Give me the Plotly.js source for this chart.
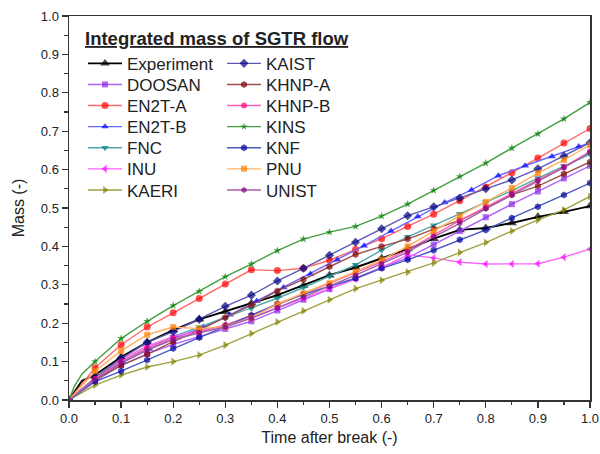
<!DOCTYPE html>
<html><head><meta charset="utf-8">
<script src="https://cdn.plot.ly/plotly-3.0.1.min.js"></script>
<style>html,body{margin:0;padding:0;background:#fff}</style>
</head><body><div id="chart" style="width:600px;height:454px"></div>
<script>
// ---- data ----
const time = [0,0.05,0.1,0.15,0.2,0.25,0.3,0.35,0.4,0.45,0.5,0.55,0.6,0.65,0.7,0.75,0.8,0.85,0.9,0.95,1.0];
const timeExp = [0,0.025,0.05,0.1,0.15,0.2,0.25,0.3,0.35,0.4,0.45,0.5,0.55,0.6,0.65,0.7,0.75,0.8,0.85,0.9,0.95,1.0];
const timeKINS = [0,0.01,0.025,0.05,0.1,0.15,0.2,0.25,0.3,0.35,0.4,0.45,0.5,0.55,0.6,0.65,0.7,0.75,0.8,0.85,0.9,0.95,1.0];
const timeEN2TB = [0,0.0515,0.103,0.1545,0.206,0.2575,0.309,0.3605,0.412,0.4635,0.515,0.5665,0.618,0.6695,0.721,0.7725,0.824,0.8755,0.927,0.9785,1.0];

const experiment = [0,0.05,0.065,0.112,0.15,0.182,0.21,0.23,0.252,0.273,0.298,0.325,0.345,0.369,0.393,0.42,0.443,0.448,0.461,0.477,0.49,0.505];
const doosan = [0,0.05,0.09,0.12,0.145,0.165,0.185,0.205,0.233,0.261,0.289,0.317,0.345,0.37,0.405,0.44,0.476,0.51,0.543,0.577,0.61];
const en2tA = [0,0.084,0.144,0.19,0.227,0.264,0.302,0.339,0.337,0.343,0.364,0.392,0.42,0.452,0.484,0.519,0.555,0.592,0.63,0.669,0.707];
const en2tB = [0,0.055,0.098,0.133,0.163,0.19,0.222,0.258,0.293,0.328,0.365,0.402,0.44,0.478,0.514,0.547,0.584,0.61,0.634,0.66,0.67];
const fnc = [0,0.055,0.1,0.135,0.165,0.19,0.213,0.238,0.265,0.293,0.322,0.352,0.39,0.425,0.455,0.485,0.515,0.545,0.578,0.61,0.64];
const inu = [0,0.055,0.105,0.14,0.165,0.18,0.195,0.215,0.24,0.265,0.29,0.315,0.345,0.378,0.37,0.359,0.354,0.354,0.355,0.372,0.393];
const kaeri = [0,0.039,0.065,0.086,0.1,0.117,0.143,0.173,0.203,0.232,0.261,0.29,0.312,0.333,0.357,0.384,0.41,0.44,0.469,0.495,0.53];
const kaist = [0,0.058,0.108,0.15,0.178,0.21,0.244,0.273,0.31,0.343,0.377,0.411,0.446,0.48,0.503,0.526,0.55,0.573,0.602,0.635,0.67];
const khnpA = [0,0.052,0.09,0.119,0.152,0.182,0.215,0.247,0.284,0.314,0.347,0.379,0.4,0.419,0.445,0.468,0.5,0.534,0.557,0.589,0.62];
const khnpB = [0,0.055,0.1,0.135,0.16,0.178,0.195,0.22,0.248,0.275,0.302,0.33,0.36,0.39,0.43,0.467,0.503,0.539,0.573,0.607,0.647];
const kins = [0,0.035,0.068,0.1,0.16,0.205,0.246,0.283,0.321,0.354,0.389,0.419,0.437,0.452,0.479,0.51,0.546,0.582,0.617,0.656,0.693,0.732,0.775];
const knf = [0,0.048,0.075,0.104,0.134,0.163,0.193,0.221,0.25,0.275,0.297,0.317,0.343,0.365,0.39,0.417,0.443,0.474,0.503,0.534,0.565];
const pnu = [0,0.075,0.128,0.17,0.19,0.186,0.191,0.214,0.25,0.278,0.304,0.334,0.365,0.4,0.44,0.48,0.516,0.552,0.591,0.625,0.664];
const unist = [0,0.053,0.097,0.13,0.157,0.175,0.19,0.213,0.24,0.268,0.297,0.325,0.355,0.385,0.425,0.46,0.498,0.535,0.57,0.605,0.645];

const names = ['Experiment','DOOSAN','EN2T-A','EN2T-B','FNC','INU','KAERI','KAIST','KHNP-A','KHNP-B','KINS','KNF','PNU','UNIST'];

// ---- styles ----
const specs = [
  {x: timeExp,   y: experiment, line:'#000000', mk:'#000000', sym:'triangle-up',   size:9, lw:1.9},
  {x: time,      y: doosan,     line:'#b060ff', mk:'#8a2be2', sym:'square',        size:6},
  {x: time,      y: en2tA,      line:'#ff6a6a', mk:'#ff0000', sym:'circle',        size:7},
  {x: timeEN2TB, y: en2tB,      line:'#6a6aff', mk:'#0000ff', sym:'triangle-up',   size:7, hideLast:true},
  {x: time,      y: fnc,        line:'#50a8a8', mk:'#008080', sym:'triangle-down', size:7},
  {x: time,      y: inu,        line:'#ff60ff', mk:'#ff00ff', sym:'triangle-left', size:7},
  {x: time,      y: kaeri,      line:'#a0a040', mk:'#808000', sym:'triangle-right',size:7},
  {x: time,      y: kaist,      line:'#5a5ab4', mk:'#000080', sym:'diamond',       size:7},
  {x: time,      y: khnpA,      line:'#a05050', mk:'#800000', sym:'hexagon',       size:7},
  {x: time,      y: khnpB,      line:'#ff60b0', mk:'#ff0080', sym:'circle',        size:6},
  {x: timeKINS,  y: kins,       line:'#40a040', mk:'#008000', sym:'star',          size:6},
  {x: time,      y: knf,        line:'#4a5ac0', mk:'#0000a0', sym:'hexagon',       size:7},
  {x: time,      y: pnu,        line:'#ffb060', mk:'#ff8000', sym:'square',        size:6},
  {x: time,      y: unist,      line:'#a060a8', mk:'#800080', sym:'hexagon',       size:6}
];

function onGrid(v){ return Math.abs(v*20 - Math.round(v*20)) < 1e-6; }

const font = 'Liberation Sans, Arial, sans-serif';
const layout = {
  width: 600, height: 454,
  margin: {l: 69, r: 10, t: 16, b: 54},
  paper_bgcolor: '#fff', plot_bgcolor: '#fff',
  font: {family: font, color: '#222'},
  showlegend: true,
  xaxis: {
    range: [0, 1], dtick: 0.1, tick0: 0, tickformat: '.1f',
    ticks: 'outside', ticklen: 6, tickwidth: 1.3, tickcolor: '#333',
    minor: {dtick: 0.05, ticks: 'outside', ticklen: 3.5, tickwidth: 1.2, tickcolor: '#333'},
    showline: true, mirror: true, linecolor: '#333', linewidth: 1.5,
    showgrid: false, zeroline: false,
    tickfont: {family: font, size: 13, color: '#222'},
    title: {text: 'Time after break (-)', font: {family: font, size: 16, color: '#222'}, standoff: 6}
  },
  yaxis: {
    range: [0, 1], dtick: 0.1, tick0: 0, tickformat: '.1f',
    ticks: 'outside', ticklen: 6, tickwidth: 1.3, tickcolor: '#333',
    minor: {dtick: 0.05, ticks: 'outside', ticklen: 3.5, tickwidth: 1.2, tickcolor: '#333'},
    showline: true, mirror: true, linecolor: '#333', linewidth: 1.5,
    showgrid: false, zeroline: false,
    tickfont: {family: font, size: 13, color: '#222'},
    title: {text: 'Mass (-)', font: {family: font, size: 16, color: '#222'}, standoff: 12}
  },
  annotations: [{
    xref: 'paper', yref: 'paper', x: 0.026, y: 0.942, xanchor: 'left', yanchor: 'middle',
    text: '<b><u>Integrated mass of SGTR flow</u></b>', showarrow: false,
    font: {family: font, size: 18.5, color: '#222'}
  }]
};

// one single-entry legend per series, arranged in two columns
const traces = specs.map((s, i) => {
  const sizes = s.x.map((v, j) => {
    if (s.hideLast && j === s.x.length - 1) return 0;
    if (s.x === timeEN2TB) return s.size;
    return onGrid(v) ? s.size : 0;
  });
  const key = i === 0 ? 'legend' : 'legend' + (i + 1);
  const col = i < 7 ? 0 : 1;
  const row = i % 7;
  const pxLeft = col === 0 ? 83 : 222;
  const pyMid = 63.8 + 21.1 * row;
  layout[key] = {
    x: (pxLeft - 69) / 521, y: (400 - pyMid) / 384,
    xanchor: 'left', yanchor: 'middle',
    bgcolor: 'rgba(0,0,0,0)', borderwidth: 0,
    font: {family: font, size: 17, color: '#222'},
    itemwidth: 34
  };
  return {
    type: 'scatter', mode: 'lines+markers', name: names[i],
    x: s.x, y: s.y,
    legend: key,
    line: {color: s.line, width: s.lw || 1.4},
    marker: {color: s.mk, symbol: s.sym, size: sizes, line: {width: 0}}
  };
});

Plotly.newPlot('chart', traces, layout, {displayModeBar: false, staticPlot: true});
</script>
</body></html>
